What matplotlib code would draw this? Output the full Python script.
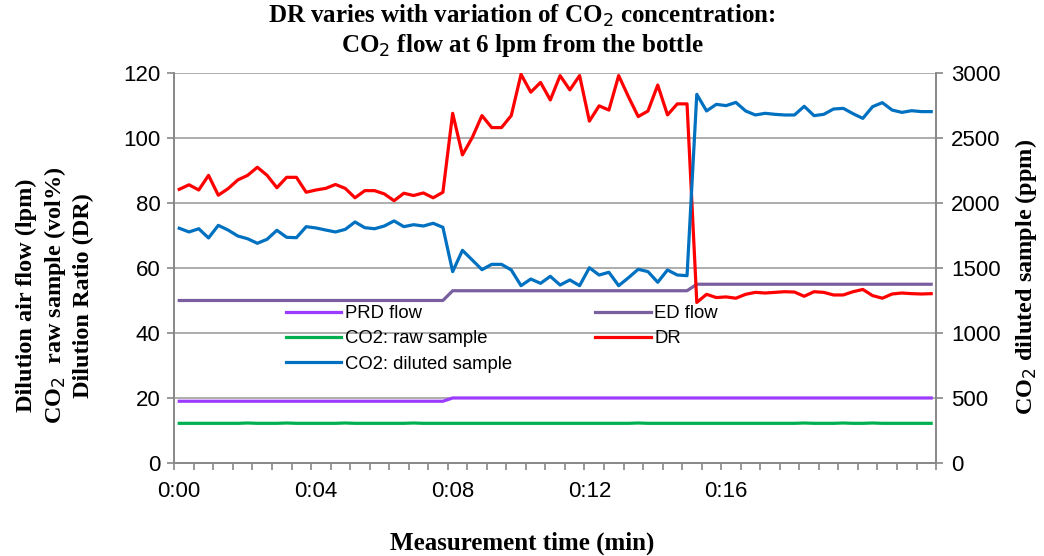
import numpy as np
import matplotlib
matplotlib.use('Agg')
import matplotlib.pyplot as plt

# readings every ~17 s, 78 samples (labels every 14 samples = 4 min)
time_labels = ['0:00', '0:04', '0:08', '0:12', '0:16']
label_idx = [0, 14, 28, 42, 56]

prd_flow = [19] * 28 + [20] * 50
ed_flow = [50] * 28 + [53] * 25 + [55] * 25
co2_raw = [12.2, 12.2, 12.2, 12.2, 12.2, 12.2, 12.2, 12.3, 12.2, 12.2,
           12.2, 12.3, 12.2, 12.2, 12.2, 12.2, 12.2, 12.3, 12.2, 12.2,
           12.2, 12.2, 12.2, 12.2, 12.3, 12.2, 12.2, 12.2, 12.2, 12.2,
           12.2, 12.2, 12.2, 12.2, 12.2, 12.2, 12.2, 12.2, 12.2, 12.2,
           12.2, 12.2, 12.2, 12.2, 12.2, 12.2, 12.2, 12.3, 12.2, 12.2,
           12.2, 12.2, 12.2, 12.2, 12.2, 12.2, 12.2, 12.2, 12.2, 12.2,
           12.2, 12.2, 12.2, 12.2, 12.3, 12.2, 12.2, 12.2, 12.3, 12.2,
           12.2, 12.3, 12.2, 12.2, 12.2, 12.2, 12.2, 12.2]
dr = [84.2, 85.6, 84.0, 88.5, 82.4, 84.4, 87.1, 88.5, 91.0, 88.5,
      84.7, 87.9, 87.9, 83.3, 84.0, 84.5, 85.7, 84.5, 81.6, 83.8,
      83.8, 82.8, 80.7, 83.0, 82.3, 83.1, 81.6, 83.3, 107.6, 94.8,
      100.1, 106.9, 103.2, 103.2, 106.9, 119.6, 114.1, 117.1, 111.7, 119.2,
      114.8, 119.2, 105.2, 109.9, 108.6, 119.2, 112.7, 106.6, 108.3, 116.3,
      107.1, 110.5, 110.5, 49.4, 51.9, 50.9, 51.1, 50.7, 51.9, 52.5,
      52.3, 52.5, 52.7, 52.6, 51.3, 52.7, 52.5, 51.7, 51.7, 52.7,
      53.4, 51.5, 50.7, 52.0, 52.3, 52.1, 52.0, 52.1]
co2_diluted = [1806, 1777, 1802, 1731, 1828, 1792, 1746, 1725, 1690, 1721,
               1790, 1736, 1733, 1818, 1808, 1792, 1777, 1797, 1854, 1810,
               1802, 1823, 1862, 1818, 1833, 1823, 1844, 1813, 1472, 1636,
               1562, 1487, 1528, 1528, 1485, 1364, 1415, 1382, 1436, 1369,
               1408, 1364, 1502, 1446, 1467, 1364, 1425, 1490, 1472, 1390,
               1485, 1446, 1441, 2836, 2708, 2759, 2749, 2774, 2708, 2677,
               2690, 2682, 2677, 2677, 2744, 2672, 2682, 2723, 2728, 2687,
               2651, 2741, 2772, 2715, 2697, 2710, 2703, 2703]

x = np.arange(len(dr))

plt.rcParams['font.family'] = ['Liberation Sans', 'DejaVu Sans']
serif = ['Liberation Serif', 'DejaVu Serif']

fig = plt.figure(figsize=(10.44, 5.56), dpi=100)
ax = fig.add_axes([0.167, 0.1673, 0.7296, 0.7014])
ax2 = ax.twinx()

lw = 2.3
l_prd, = ax.plot(x, prd_flow, color='#9B3BFF', lw=lw, label='PRD flow')
l_raw, = ax.plot(x, co2_raw, color='#00B050', lw=lw, label='CO2: raw sample')
l_ed, = ax.plot(x, ed_flow, color='#7A5FA0', lw=lw, label='ED flow')
l_dr, = ax.plot(x, dr, color='#FF0000', lw=lw, label='DR', zorder=4)
l_dil, = ax2.plot(x, co2_diluted, color='#0070C0', lw=lw, label='CO2: diluted sample')

ax.set_xlim(-0.5, len(dr) - 0.5)
ax.set_ylim(0, 120)
ax2.set_ylim(0, 3000)
ax.set_yticks(np.arange(0, 121, 20))
ax2.set_yticks(np.arange(0, 3001, 500))
ax.grid(axis='y', color='#A0A0A0', lw=1.2)
ax.set_axisbelow(True)

# tick marks between every second sample, labels every 4 min
ax.set_xticks(np.arange(-0.5, len(dr), 2))
ax.set_xticklabels([])
ax.set_xticks(label_idx, minor=True)
ax.set_xticklabels(time_labels, minor=True)
ax.tick_params(axis='x', which='major', length=5, color='#888888', width=1.2)
ax.tick_params(axis='x', which='minor', length=0, pad=13, labelsize=16)
ax.tick_params(axis='y', length=5, color='#888888', width=1.2, labelsize=16, pad=5)
ax2.tick_params(axis='y', length=5, color='#888888', width=1.2, labelsize=16, pad=6)

for a in (ax, ax2):
    for s in a.spines.values():
        s.set_color('#888888')
        s.set_linewidth(1.2)
    a.spines['top'].set_visible(False)

fig.text(0.5, 1 - 543 / 556, 'Measurement time (min)', family=serif, fontweight='bold',
         fontsize=18, ha='center', va='center')
ax.set_ylabel('Dilution air flow (lpm)\nCO$_2$  raw sample (vol%)\nDilution Ratio (DR)',
              family=serif, fontweight='bold', fontsize=17.5, linespacing=1.3)
ax.yaxis.set_label_coords(-0.105, 0.43)
ax2.set_ylabel('CO$_2$ diluted sample (ppm)', family=serif, fontweight='bold', fontsize=17.5)
ax2.yaxis.set_label_coords(1.101, 0.477)

fig.suptitle('DR varies with variation of CO$_2$ concentration:\nCO$_2$ flow at 6 lpm from the bottle',
             family=serif, fontweight='bold', fontsize=18, y=0.995, x=0.5, linespacing=1.15)

ax.legend(handles=[l_prd, l_raw, l_dil, l_ed, l_dr], ncol=2, frameon=False, fontsize=13.3,
          loc='upper left', bbox_to_anchor=(0.265, 0.468), bbox_transform=fig.transFigure,
          handlelength=3.0, handletextpad=0.2, columnspacing=4.5, labelspacing=0.45,
          borderpad=0)

fig.savefig('out.png', dpi=100)
